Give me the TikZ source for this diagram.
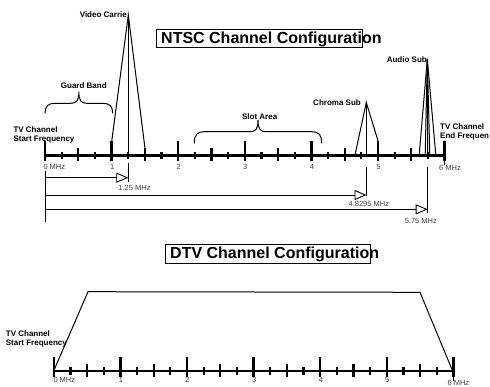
\documentclass[tikz,border=0pt]{standalone}
\usepackage{fontspec}
\setmainfont{Liberation Sans}
\usetikzlibrary{arrows.meta}
\newcommand{\hbrace}[5]{% x1, x2, yend, yflat, ytip
 \draw[thinln] (#1,#3) .. controls (#1,{#4+3}) and ({#1+3},#4) .. ({#1+10},#4)
   -- ({(#1+#2)/2-8},#4) .. controls ({(#1+#2)/2-2},#4) and ({(#1+#2)/2},{#4-3}) .. ({(#1+#2)/2},#5)
   .. controls ({(#1+#2)/2},{#4-3}) and ({(#1+#2)/2+2},#4) .. ({(#1+#2)/2+8},#4)
   -- ({#2-10},#4) .. controls ({#2-3},#4) and (#2,{#4+3}) .. (#2,#3);}
\begin{document}
\begin{tikzpicture}[x=1pt,y=-1pt,
  lbl/.style={font=\fontsize{8}{9.3}\selectfont\bfseries, inner sep=0pt, align=left},
  num/.style={font=\fontsize{7.5}{8}\selectfont, text=black!75, inner sep=0pt},
  ttl/.style={font=\fontsize{16}{18}\selectfont\bfseries, inner sep=0pt},
  axisline/.style={line width=2.2pt},
  tickbig/.style={line width=2.4pt},
  ticksmall/.style={line width=2.2pt},
  thinln/.style={line width=1pt},
  arr/.style={line width=0.9pt, -{Triangle[open,length=12pt,width=10pt]}},
]
\useasboundingbox (0,0) rectangle (490,387);

% ---------------- NTSC ----------------
\draw[thinln] (156.7,29.3) rectangle (362.7,47.7);
\node[ttl, anchor=base west] (ntsc) at (161,43.3) {NTSC Channel Configuration};

\draw[axisline] (45,155.5) -- (444.6,155.5);
\foreach \k in {0,...,6} \draw[tickbig] ({45+66.6*\k},141.5) -- ({45+66.6*\k},161.5);
\foreach \k in {0,...,5} \draw[ticksmall] ({45+66.6*\k+33.3},148.5) -- ({45+66.6*\k+33.3},161.5);
\foreach \k in {0,...,11} \draw[ticksmall] ({45+16.65+33.3*\k},152) -- ({45+16.65+33.3*\k},159);

\node[num, anchor=west] (n0) at (43.3,167.3) {0 MHz};
\foreach \k in {1,...,5} \node[num] (n\k) at ({45+66.6*\k+0.5},167.3) {\k};
\node[num, anchor=west] (n6) at (439,168) {6 MHz};
\draw[thinln] (444.6,161.5) -- (444.6,165);

\node[lbl, anchor=west] (start1) at (13.3,134.6) {TV Channel\\Start Frequency};
\node[lbl, anchor=west] (end1) at (440,131.9) {TV Channel\\End Frequen};

% video carrier
\coordinate (vc) at (128.3,15);
\coordinate (vcL) at (111.7,141.5);
\coordinate (vcR) at (145,148.5);
\coordinate (vcB) at (128.3,152);
\draw[thinln] (vcL) -- (vc) -- (vcR);
\draw[thinln] (vc) -- (vcB);
\node[lbl, anchor=east] (vlbl) at (127,15) {Video Carrie};

% chroma sub
\coordinate (cs) at (366.3,102.5);
\coordinate (csL) at (355,155);
\coordinate (csR) at (378.2,141.5);
\coordinate (csB) at (366.3,155);
\draw[thinln] (csL) -- (cs) -- (csR);
\draw[thinln] (cs) -- (csB);
\node[lbl, anchor=east] (clbl) at (361,102.3) {Chroma Sub};

% audio sub
\coordinate (as) at (427.3,59);
\coordinate (asL1) at (419.2,155);
\coordinate (asR1) at (435.8,155);
\coordinate (asL2) at (425.2,155);
\coordinate (asR2) at (429.8,155);
\coordinate (asB) at (427.6,155);
\draw[thinln] (asL1) -- (as) -- (asR1);
\draw[thinln] (asL2) -- (as) -- (asR2);
\draw[thinln] (as) -- (asB);
\node[lbl, anchor=east] (albl) at (427,60) {Audio Sub};

% braces
\hbrace{45}{112.7}{113.3}{103.3}{91.7}
\node[lbl] (gb) at (83.8,86) {Guard Band};
\hbrace{194.3}{321.7}{143.3}{131.7}{120}
\node[lbl] (sa) at (259.7,116.5) {Slot Area};

% offset arrows
\coordinate (o0) at (45,171);
\coordinate (o1) at (45,221.7);
\draw[thinln] (o0) -- (o1);
\coordinate (a1s) at (45,177.7);   \coordinate (a1e) at (128.3,177.7);
\coordinate (a2s) at (45,195);     \coordinate (a2e) at (366.5,195);
\coordinate (a3s) at (45,209.3);   \coordinate (a3e) at (427.7,209.3);
\draw[arr] (a1s) -- (a1e);
\draw[arr] (a2s) -- (a2e);
\draw[arr] (a3s) -- (a3e);
\coordinate (v1t) at (128.3,163.5); \coordinate (v1b) at (128.3,182);
\coordinate (v2t) at (366.5,166.7); \coordinate (v2b) at (366.5,196);
\coordinate (v3t) at (427.7,166.7); \coordinate (v3b) at (427.7,213.3);
\draw[thinln] (v1t) -- (v1b);
\draw[thinln] (v2t) -- (v2b);
\draw[thinln] (v3t) -- (v3b);
\node[num] (m1) at (134.5,187.7) {1.25 MHz};
\node[num] (m2) at (368.8,204) {4.8295 MHz};
\node[num] (m3) at (420.8,220.7) {5.75 MHz};

% ---------------- DTV ----------------
\draw[thinln] (165.7,244.3) rectangle (370.7,263.3);
\node[ttl, anchor=base west] (dtv) at (170,258.3) {DTV Channel Configuration};

\draw[axisline] (53.8,370.7) -- (453.4,370.7);
\foreach \k in {0,...,6} \draw[tickbig] ({53.8+66.6*\k},357) -- ({53.8+66.6*\k},376.7);
\foreach \k in {0,...,5} \draw[ticksmall] ({53.8+66.6*\k+33.3},363.5) -- ({53.8+66.6*\k+33.3},376.7);
\foreach \k in {0,...,11} \draw[ticksmall] ({53.8+16.65+33.3*\k},367.3) -- ({53.8+16.65+33.3*\k},375);

\node[num, anchor=west] (d0) at (53.3,380.3) {0 MHz};
\foreach \k in {1,...,5} \node[num] (d\k) at ({53.8+66.6*\k+0.5},380.3) {\k};
\node[num, anchor=west] (d6) at (447.3,383.3) {6 MHz};
\draw[thinln] (453.4,376.7) -- (453.4,381);

\node[lbl, anchor=west] (start2) at (5.7,338.9) {TV Channel\\Start Frequency};

\coordinate (t0) at (53.8,370.7);
\coordinate (t1) at (88,291.7);
\coordinate (t2) at (420,292.3);
\coordinate (t3) at (452.5,370.7);
\draw[thinln] (t0) -- (t1) -- (t2) -- (t3);
\end{tikzpicture}
\end{document}
